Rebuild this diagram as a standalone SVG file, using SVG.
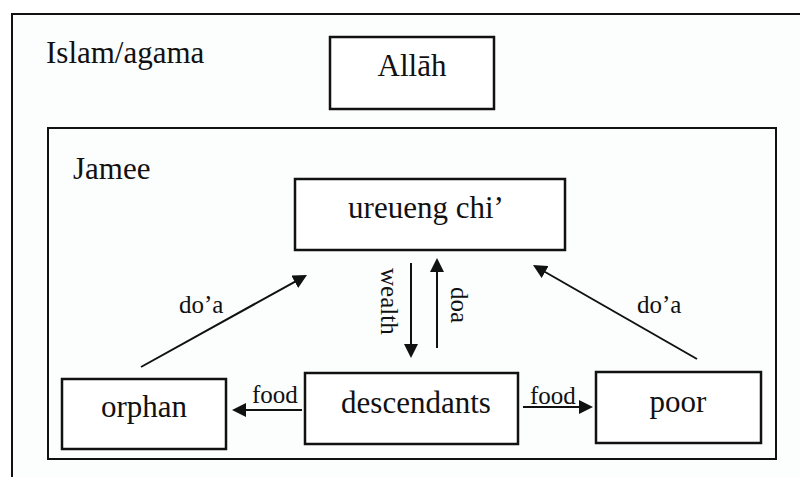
<svg xmlns="http://www.w3.org/2000/svg" width="800" height="477" viewBox="0 0 800 477">
  <style>
    .frame { fill: #fcfdfd; stroke: #111; stroke-width: 2; }
    .box { fill: #ffffff; stroke: #111; stroke-width: 2.5; }
    text { fill: #111; }
    .lbl { font-size: 31px; }
    .mid { text-anchor: middle; }
    .edge { font-size: 25px; }
    .conn { stroke: #111; stroke-width: 2; fill: none; marker-end: url(#arrow); }
  </style>
  <defs>
    <marker id="arrow" markerUnits="userSpaceOnUse" markerWidth="14" markerHeight="14" refX="2" refY="7" orient="auto">
      <path d="M0,0 L14,7 L0,14 z" fill="#111"/>
    </marker>
  </defs>

  <rect width="800" height="477" fill="#ffffff"/>

  <g font-family="Liberation Serif, DejaVu Serif, serif">
  <!-- outer frame: Islam/agama -->
  <g id="islam">
    <rect class="frame" x="12" y="14" width="800" height="480"/>
    <text class="lbl" x="46" y="63">Islam/agama</text>
  </g>

  <g id="allah">
    <rect class="box" x="330" y="37" width="164" height="72"/>
    <text class="lbl mid" x="412" y="76">Allāh</text>
  </g>

  <!-- inner frame: Jamee -->
  <g id="jamee">
    <rect class="frame" x="48" y="128" width="728" height="331"/>
    <text class="lbl" x="73" y="179">Jamee</text>
  </g>

  <g id="ureueng-chi">
    <rect class="box" x="295" y="179" width="270" height="71"/>
    <text class="lbl mid" x="426" y="218" font-size="29">ureueng chi’</text>
  </g>

  <g id="orphan">
    <rect class="box" x="62" y="379" width="164" height="70"/>
    <text class="lbl mid" x="144" y="417">orphan</text>
  </g>

  <g id="descendants">
    <rect class="box" x="305" y="373" width="213" height="71"/>
    <text class="lbl mid" x="416" y="413">descendants</text>
  </g>

  <g id="poor">
    <rect class="box" x="596" y="372" width="165" height="71"/>
    <text class="lbl mid" x="678" y="412">poor</text>
  </g>

  <!-- connectors -->
  <g id="connectors">
    <line class="conn" x1="141" y1="367" x2="296.5" y2="280.8"/>
    <line class="conn" x1="697" y1="359" x2="543.4" y2="271"/>
    <line class="conn" x1="411" y1="263" x2="411" y2="346"/>
    <line class="conn" x1="437" y1="348" x2="437" y2="270"/>
    <line class="conn" x1="302" y1="410" x2="244" y2="410"/>
    <line class="conn" x1="523" y1="407" x2="581" y2="407"/>

    <text class="edge" x="179" y="313">do’a</text>
    <text class="edge" x="637" y="313">do’a</text>
    <text class="edge" x="252" y="403">food</text>
    <text class="edge" x="530" y="404">food</text>
    <text class="edge" transform="translate(381,268) rotate(90)">wealth</text>
    <text class="edge" transform="translate(451,287) rotate(90)">doa</text>
  </g>
  </g>
</svg>
